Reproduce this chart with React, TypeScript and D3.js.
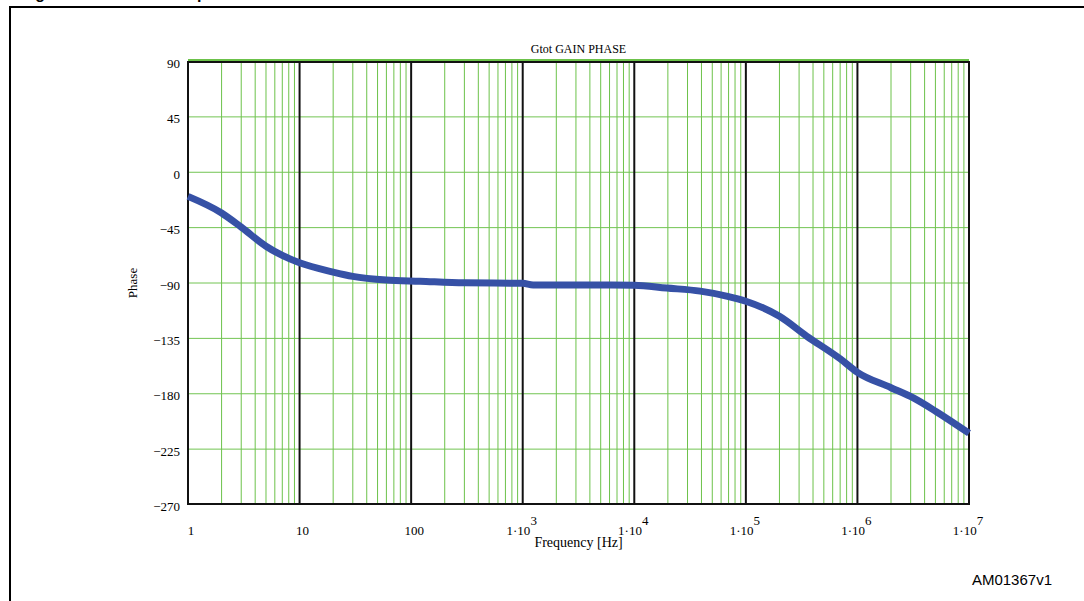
import React from 'react';
import * as d3 from 'd3';

// Bode phase curve of Gtot
const freqHz = [1, 2, 3, 5, 7, 10, 20, 30, 60, 120, 300, 1000, 1240, 5000, 10000, 19500, 39000, 67000, 100000, 200000, 350000, 700000, 1e6, 2e6, 3.2e6, 5.1e6, 1e7];
const phaseDeg = [-20, -33.5, -45, -60.5, -68, -74, -81.5, -85, -88, -89, -90.3, -90.7, -92, -92, -92.2, -94.5, -97, -101, -105.2, -117.5, -133.5, -152, -163, -175.5, -184, -195, -212.5];

const yTicks = [90, 45, 0, -45, -90, -135, -180, -225, -270];
const decades = [1, 10, 100, 1e3, 1e4, 1e5, 1e6, 1e7];
const decadeLabels = ['1', '10', '100', '1·10', '1·10', '1·10', '1·10', '1·10'];
const decadeExp = ['', '', '', '3', '4', '5', '6', '7'];

const W = 1084;
const H = 601;
const left = 188;
const right = 969;
const top = 61;
const bottom = 504;

const serif = "'Liberation Serif', 'DejaVu Serif', serif";

export default function App() {
  const x = d3.scaleLog().domain([1, 1e7]).range([left, right]);
  const y = d3.scaleLinear().domain([-270, 90]).range([bottom, top]);

  const minor: number[] = [];
  for (let d = 0; d < 7; d++) {
    for (let k = 2; k <= 9; k++) minor.push(k * Math.pow(10, d));
  }

  const pts = freqHz.map((f, i) => [f, phaseDeg[i]] as [number, number]);
  const line = d3.line<[number, number]>()
    .x(d => x(d[0]))
    .y(d => y(d[1]))
    .curve(d3.curveMonotoneX);

  const fmt = (v: number) => (v < 0 ? '\u2212' + Math.abs(v) : String(v));

  return (
    <svg width={W} height={H} style={{ position: 'absolute', left: 0, top: 0, background: '#fff' }}>
      {/* cut-off figure caption */}
      <text x={21} y={-1} fontFamily="'Liberation Sans', Arial, sans-serif" fontWeight="bold" fontSize={16}>
        Figure 13. Overall Gtot phase
      </text>
      {/* outer frame */}
      <path d={`M10,${H} L10,7 L${W},7`} fill="none" stroke="#000" strokeWidth={2} />

      <text x={(left + right) / 2} y={53} textAnchor="middle" fontFamily={serif} fontSize={12}>
        Gtot GAIN PHASE
      </text>

      {/* minor vertical grid */}
      {minor.map(f => (
        <line key={'m' + f} x1={x(f)} x2={x(f)} y1={top} y2={bottom} stroke="#6cc24a" strokeWidth={1} />
      ))}
      {/* horizontal grid */}
      {yTicks.filter(v => v !== 90 && v !== -270).map(v => (
        <line key={'h' + v} x1={left} x2={right} y1={y(v) + 0.5} y2={y(v) + 0.5} stroke="#72c452" strokeWidth={1} />
      ))}
      <line x1={left} x2={right} y1={y(90) - 1} y2={y(90) - 1} stroke="#6cc24a" strokeWidth={2} />

      {/* decade lines */}
      {decades.map(f => (
        <line key={'d' + f} x1={x(f)} x2={x(f)} y1={top} y2={bottom} stroke="#111" strokeWidth={2} />
      ))}
      <line x1={left} x2={right} y1={top + 1} y2={top + 1} stroke="#111" strokeWidth={2} />
      <line x1={left - 1} x2={right + 1} y1={bottom} y2={bottom} stroke="#111" strokeWidth={2} />

      {/* curve */}
      <path d={line(pts) || ''} fill="none" stroke="#3651a6" strokeWidth={7} strokeLinejoin="round" strokeLinecap="butt" />

      {/* y tick labels */}
      {yTicks.map(v => (
        <text key={'yl' + v} x={180} y={y(v) + 7} textAnchor="end" fontFamily={serif} fontSize={13}>
          {fmt(v)}
        </text>
      ))}
      <text transform={`translate(137,283) rotate(-90)`} textAnchor="middle" fontFamily={serif} fontSize={13}>
        Phase
      </text>

      {/* x tick labels */}
      {decades.map((f, i) => (
        <text key={'xl' + f} x={x(f) + (decadeExp[i] ? -1 : 3)} y={535} textAnchor="middle" fontFamily={serif} fontSize={13}>
          {decadeLabels[i]}
          {decadeExp[i] && (
            <tspan dy={-10} fontSize={13}>{decadeExp[i]}</tspan>
          )}
        </text>
      ))}
      <text x={(left + right) / 2} y={547} textAnchor="middle" fontFamily={serif} fontSize={14}>
        Frequency [Hz]
      </text>

      <text x={1052} y={585} textAnchor="end" fontFamily="'Liberation Sans', Arial, sans-serif" fontSize={15}>
        AM01367v1
      </text>
    </svg>
  );
}
